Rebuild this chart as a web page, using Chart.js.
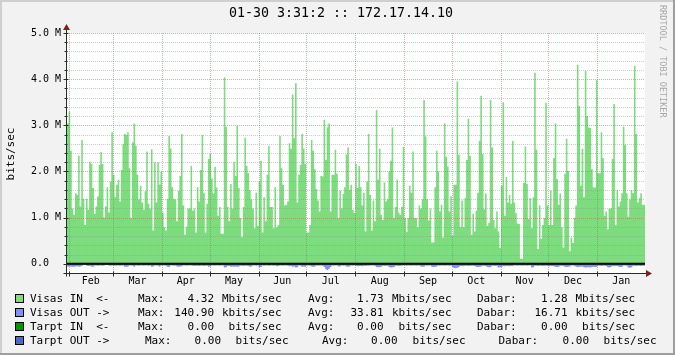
<!DOCTYPE html>
<html><head><meta charset="utf-8">
<script src="https://cdn.jsdelivr.net/npm/chart.js@4/dist/chart.umd.min.js"></script>
<style>html,body{margin:0;padding:0;background:#f2f2f2}#wrap{position:relative;width:675px;height:355px}canvas{display:block}</style>
</head><body><div id="wrap"><canvas id="c" width="675" height="355"></canvas></div>
<script>
// ---------- DATA ----------
const titleText = "01-30 3:31:2 :: 172.17.14.10";
const yAxisTitle = "bits/sec";
const creditText = "RRDTOOL / TOBI OETIKER";
const yTickValues = [0, 1, 2, 3, 4, 5];
const yTickLabels = ["0.0", "1.0 M", "2.0 M", "3.0 M", "4.0 M", "5.0 M"];
const monthLabels = ["Feb","Mar","Apr","May","Jun","Jul","Aug","Sep","Oct","Nov","Dec","Jan"];
const monthStartDays = [1, 29, 60, 90, 121, 151, 182, 213, 243, 274, 304, 335, 365];

// Visas IN, Mbits/sec per day
const visasIn = [
1.47,3.04,3.30,2.45,1.20,1.06,1.53,1.49,2.34,1.24,2.68,1.41,0.84,1.41,1.17,2.21,2.16,1.64,1.08,1.24,
1.46,2.14,2.42,2.16,1.00,1.24,1.66,1.11,1.78,2.85,1.93,1.44,1.71,1.82,1.35,2.03,2.59,2.81,2.79,2.85,
2.07,0.99,2.63,3.04,2.56,1.93,1.39,1.69,1.33,1.17,1.57,2.43,1.30,1.20,2.48,0.72,2.20,1.33,2.20,1.72,
2.00,
1.11,0.79,0.72,1.41,2.77,2.50,1.66,1.41,1.39,0.92,1.58,1.90,2.81,1.26,0.63,0.81,1.20,1.20,2.12,1.15,
1.20,0.68,1.66,1.35,2.03,2.79,1.54,0.68,1.30,2.27,2.38,1.85,1.52,2.10,1.65,1.04,1.23,0.65,0.65,4.04,
2.97,1.23,0.92,1.73,1.20,2.21,1.90,2.99,1.64,0.99,0.58,1.23,2.73,2.12,1.96,1.60,1.39,1.20,0.77,1.54,
0.82,
1.78,2.23,0.68,1.44,0.92,1.93,2.55,1.23,1.23,0.77,1.66,0.79,0.84,2.77,2.07,1.71,1.26,1.28,1.35,2.61,
2.49,3.67,2.72,3.91,1.33,1.93,2.14,2.81,2.50,2.16,0.68,0.68,0.84,2.68,2.45,2.05,1.62,1.37,1.13,1.90,
1.89,3.12,2.25,2.96,3.04,1.13,1.93,1.93,2.47,1.95,0.99,1.59,1.20,1.51,1.66,2.37,2.52,1.60,1.71,1.17,
1.10,
2.16,1.64,2.12,1.66,1.26,1.54,0.70,1.78,2.81,1.49,0.72,1.37,0.92,3.33,1.82,2.49,1.06,0.95,1.76,1.35,
1.40,2.00,2.23,2.95,0.99,1.23,1.82,1.11,1.06,1.23,2.53,0.99,0.69,0.99,1.69,1.54,2.43,0.99,0.99,0.79,
1.26,1.20,1.40,3.55,2.76,1.40,0.94,1.20,0.46,0.46,1.66,2.45,2.00,1.13,1.28,0.57,3.04,2.32,2.11,1.13,
1.46,
0.61,1.71,1.71,3.95,2.36,0.79,1.37,0.79,1.42,2.25,3.14,2.34,0.63,1.08,0.70,1.15,1.54,2.66,3.64,2.38,
1.18,1.52,0.82,0.89,3.55,2.52,0.95,0.77,1.13,0.70,0.34,1.69,3.50,1.04,1.88,1.33,1.49,1.30,2.66,1.33,
1.10,0.87,0.86,0.11,0.11,1.75,2.54,1.73,0.97,1.42,0.77,1.44,4.14,2.47,0.32,1.26,0.54,0.84,0.99,3.49,
1.26,0.84,1.59,0.84,2.29,3.04,1.83,1.28,1.52,0.79,0.35,1.95,2.71,2.01,0.27,0.57,0.45,0.99,1.26,4.31,
3.42,1.69,2.49,1.44,4.18,3.20,2.95,2.94,2.05,1.65,1.65,3.98,1.96,1.96,2.85,2.29,1.04,1.13,0.75,1.20,
1.20,2.27,3.46,0.84,1.60,1.24,1.35,1.53,2.97,2.58,1.53,1.02,1.39,1.60,1.53,4.29,2.81,1.33,1.42,1.53,
1.28
];

// Visas OUT, Mbits/sec per day (drawn below zero)
const visasOut = [
0.065,0.06,0.065,0.06,0.065,0.065,0.06,0.055,0.065,0.06,0.045,0.02,0.02,0.045,0.05,0.045,0.06,
0.065,0.04,0.04,0.045,0.04,0.04,0.045,0.04,0.02,0.02,0.04,0.045,0.04,0.04,0.045,0.04,0.04,0.045,0.04,0.04,
0.065,0.065,0.06,0.04,0.04,0.045,0.065,0.04,0.04,0.045,0.04,0.04,0.045,0.04,0.04,0.045,0.04,
0.065,0.06,0.04,0.04,0.045,0.065,0.04,
0.04,0.04,0.045,0.065,0.07,0.04,0.04,0.045,0.04,0.06,0.065,0.06,0.055,0.04,0.04,0.045,0.04,0.04,0.04,
0.045,0.05,0.045,0.045,0.05,0.045,0.045,0.05,0.045,0.045,0.065,0.06,0.04,0.04,0.045,0.04,0.04,0.045,0.04,0.04,
0.08,0.075,0.05,0.05,0.065,0.06,0.065,0.06,0.065,0.06,0.045,0.045,0.05,0.045,0.045,0.05,0.065,0.06,
0.04,0.04,0.045,0.04,
0.075,0.07,0.04,0.045,0.04,0.04,0.045,0.04,0.04,0.045,0.04,0.055,0.05,0.04,0.04,0.045,0.04,0.04,0.045,
0.055,0.05,0.065,0.06,0.08,0.075,0.04,0.045,0.065,0.06,0.065,0.04,0.04,0.045,0.06,0.065,0.06,
0.04,0.045,0.04,0.04,0.045,0.07,0.12,0.14,0.11,0.07,0.04,0.045,0.04,0.04,0.06,0.055,0.04,0.045,0.04,
0.06,0.065,0.06,0.04,0.045,0.04,
0.05,0.055,0.05,0.05,0.055,0.045,0.05,0.045,0.045,0.04,0.04,0.04,0.045,0.07,0.075,0.07,0.065,
0.045,0.05,0.045,0.045,0.07,0.08,0.075,0.07,0.045,0.045,0.05,0.045,0.045,
0.04,0.04,0.045,0.04,0.04,0.045,0.04,0.04,0.045,0.04,0.04,0.06,0.065,0.06,0.04,0.045,0.04,0.04,
0.065,0.07,0.065,0.06,0.04,0.045,0.04,0.04,0.045,0.04,0.04,0.045,0.04,
0.07,0.09,0.095,0.085,0.07,0.05,0.055,0.05,0.045,0.045,0.05,0.045,0.045,0.045,0.05,
0.065,0.07,0.065,0.06,0.045,0.045,0.05,0.07,0.075,0.07,0.045,0.045,0.05,0.045,0.08,0.075,0.07,
0.05,0.055,0.05,0.05,0.055,0.05,0.05,0.04,0.04,0.045,0.04,0.04,0.045,0.04,0.04,0.045,0.04,0.04,
0.08,0.075,0.045,0.045,0.05,0.045,0.045,0.05,0.045,0.045,
0.05,0.055,0.05,0.05,0.055,0.065,0.07,0.065,0.045,0.045,0.05,0.065,0.07,0.065,0.06,0.04,0.04,0.045,
0.065,0.07,0.065,0.065,0.06,0.075,0.08,0.075,0.075,0.08,0.07,0.065,0.07,0.065,
0.045,0.045,0.05,0.045,0.045,0.05,0.075,0.08,0.07,0.05,0.055,0.05,0.05,0.065,0.07,0.065,
0.04,0.04,0.045,0.08,0.085,0.075,0.045,0.045,0.05,0.045,0.045,0.05,0.045
];

// Tarpt series: constant zero, one sample per month boundary
const tarptIn  = [0,0,0,0,0,0,0,0,0,0,0,0,0];
const tarptOut = [0,0,0,0,0,0,0,0,0,0,0,0,0];

// Legend table
const legendNames = ["Visas IN  <-", "Visas OUT ->", "Tarpt IN  <-", "Tarpt OUT ->"];
const legendMax   = ["4.32", "140.90", "0.00", "0.00"];
const legendAvg   = ["1.73", "33.81", "0.00", "0.00"];
const legendNow   = ["1.28", "16.71", "0.00", "0.00"];
const legendUnits = ["Mbits/sec", "kbits/sec", " bits/sec", " bits/sec"];

// ---------- STYLE ----------
const COL_IN = "#7ddc7d", COL_OUT = "#7f8fff", COL_TIN = "#009a00", COL_TOUT = "#4f68c8";
const legendColors = [COL_IN, COL_OUT, COL_TIN, COL_TOUT];
const MONO = '"DejaVu Sans Mono", "Liberation Mono", monospace';

function stepData(vals, sign) {
  const pts = vals.map((v, i) => ({ x: i, y: sign * v }));
  pts.push({ x: vals.length, y: sign * vals[vals.length - 1] });
  return pts;
}

const rrdPlugin = {
  id: 'rrd',
  beforeDraw(chart) {
    const ctx = chart.ctx, a = chart.chartArea, W = chart.width, H = chart.height;
    ctx.save();
    ctx.fillStyle = '#f2f2f2'; ctx.fillRect(0, 0, W, H);
    // frame shades
    ctx.fillStyle = '#cfcfcf'; ctx.fillRect(0, 0, W, 2); ctx.fillRect(0, 0, 2, H);
    ctx.fillStyle = '#9e9e9e'; ctx.fillRect(0, H - 2, W, 2); ctx.fillRect(W - 2, 0, 2, H);
    ctx.fillStyle = '#ffffff'; ctx.fillRect(a.left, a.top, a.right - a.left, a.bottom - a.top);
    ctx.restore();
  },
  afterDatasetsDraw(chart) {
    const ctx = chart.ctx, a = chart.chartArea, xs = chart.scales.x, ys = chart.scales.y;
    ctx.save();
    ctx.lineWidth = 1;
    // minor horizontal grid
    ctx.setLineDash([1, 1]);
    ctx.strokeStyle = 'rgba(143,143,143,0.45)';
    for (let k = 1; k <= 24; k++) {
      if (k % 5 === 0) continue;
      const y = Math.round(ys.getPixelForValue(k * 0.2)) + 0.5;
      ctx.beginPath(); ctx.moveTo(a.left, y); ctx.lineTo(a.right, y); ctx.stroke();
    }
    // major horizontal grid
    ctx.strokeStyle = 'rgba(222,79,79,0.5)';
    yTickValues.forEach(v => {
      if (v === 0) return;
      const y = Math.round(ys.getPixelForValue(v)) + 0.5;
      ctx.beginPath(); ctx.moveTo(a.left, y); ctx.lineTo(a.right, y); ctx.stroke();
    });
    // month grid
    monthStartDays.slice(0, 12).forEach(d => {
      const x = Math.round(xs.getPixelForValue(d)) + 0.5;
      ctx.beginPath(); ctx.moveTo(x, a.top); ctx.lineTo(x, a.bottom); ctx.stroke();
    });
    ctx.setLineDash([]);
    // zero rule
    const y0 = ys.getPixelForValue(0);
    ctx.strokeStyle = '#000'; ctx.lineWidth = 2;
    ctx.beginPath(); ctx.moveTo(a.left, y0); ctx.lineTo(a.right, y0); ctx.stroke();
    // axes
    ctx.lineWidth = 1; ctx.strokeStyle = '#2a2a2a';
    const ax = Math.round(a.left) - 0.5, ay = Math.round(a.bottom) + 0.5;
    ctx.beginPath(); ctx.moveTo(ax, ay + 3); ctx.lineTo(ax, a.top - 6); ctx.stroke();
    ctx.beginPath(); ctx.moveTo(ax - 3, ay); ctx.lineTo(a.right + 4, ay); ctx.stroke();
    // left ticks
    for (let k = 0; k <= 25; k++) {
      const y = Math.round(ys.getPixelForValue(k * 0.2)) + 0.5;
      const len = (k % 5 === 0) ? 3 : 2;
      ctx.beginPath(); ctx.moveTo(ax - len, y); ctx.lineTo(ax + (k % 5 === 0 ? 2 : 1), y); ctx.stroke();
    }
    // bottom ticks
    monthStartDays.slice(0, 12).forEach(d => {
      const x = Math.round(xs.getPixelForValue(d)) + 0.5;
      ctx.beginPath(); ctx.moveTo(x, ay - 2); ctx.lineTo(x, ay + 3); ctx.stroke();
    });
    // arrows
    ctx.fillStyle = '#801f1f';
    ctx.beginPath(); ctx.moveTo(ax - 3.5, a.top - 3); ctx.lineTo(ax + 3.5, a.top - 3); ctx.lineTo(ax, a.top - 9); ctx.closePath(); ctx.fill();
    ctx.beginPath(); ctx.moveTo(a.right + 1, ay - 3.5); ctx.lineTo(a.right + 1, ay + 3.5); ctx.lineTo(a.right + 7, ay); ctx.closePath(); ctx.fill();

    // y labels
    ctx.fillStyle = '#000';
    ctx.font = '10px ' + MONO; ctx.textBaseline = 'middle'; ctx.textAlign = 'left';
    yTickValues.forEach((v, i) => {
      ctx.fillText(yTickLabels[i], 31, ys.getPixelForValue(v));
    });
    // month labels
    ctx.textAlign = 'center';
    monthLabels.forEach((m, i) => {
      const x = (xs.getPixelForValue(monthStartDays[i]) + xs.getPixelForValue(monthStartDays[i + 1])) / 2;
      ctx.fillText(m, x, 281);
    });
    // y axis title
    ctx.save();
    ctx.font = '11px ' + MONO;
    ctx.translate(11, (a.top + a.bottom) / 2 + 1);
    ctx.rotate(-Math.PI / 2);
    ctx.fillText(yAxisTitle, 0, 0);
    ctx.restore();
    // title
    ctx.font = '13.3px ' + MONO; ctx.textAlign = 'center';
    ctx.fillText(titleText, 341, 14);
    // credit
    ctx.save();
    ctx.fillStyle = '#a8a8a8'; ctx.font = '8.5px ' + MONO; ctx.textAlign = 'left';
    ctx.translate(662, 5); ctx.rotate(Math.PI / 2);
    ctx.fillText(creditText, 0, 0);
    ctx.restore();
    // legend
    ctx.font = '11px ' + MONO;
    legendNames.forEach((name, r) => {
      const y = 299 + 14 * r;
      const s = r === 3 ? [7, 14, 21.5] : [0, 0, 0];
      ctx.fillStyle = legendColors[r];
      ctx.fillRect(16, y - 4, 7, 7);
      ctx.strokeStyle = '#000'; ctx.lineWidth = 1;
      ctx.strokeRect(15.5, y - 4.5, 8, 8);
      ctx.fillStyle = '#000';
      ctx.textAlign = 'left';
      ctx.fillText(name, 30, y);
      ctx.fillText('Max:', 138 + s[0], y);
      ctx.fillText(legendUnits[r], 222 + s[0], y);
      ctx.fillText('Avg:', 308 + s[1], y);
      ctx.fillText(legendUnits[r], 392 + s[1], y);
      ctx.fillText('Dabar:', 477 + s[2], y);
      ctx.fillText(legendUnits[r], 575.5 + s[2], y);
      ctx.textAlign = 'right';
      ctx.fillText(legendMax[r], 214 + s[0], y);
      ctx.fillText(legendAvg[r], 383.5 + s[1], y);
      ctx.fillText(legendNow[r], 567.5 + s[2], y);
    });
    ctx.restore();
  }
};

const monthX = monthStartDays;
new Chart(document.getElementById('c').getContext('2d'), {
  type: 'line',
  data: {
    datasets: [
      { label: 'Tarpt OUT', data: tarptOut.map((v, i) => ({ x: monthX[i], y: -v })), borderColor: COL_TOUT, borderWidth: 1, pointRadius: 0, fill: false, order: 1 },
      { label: 'Tarpt IN', data: tarptIn.map((v, i) => ({ x: monthX[i], y: v })), borderColor: COL_TIN, borderWidth: 1, pointRadius: 0, fill: false, order: 2 },
      { label: 'Visas OUT', data: stepData(visasOut, -1), stepped: 'after', fill: 'origin', backgroundColor: COL_OUT, borderColor: 'rgba(0,0,0,0)', borderWidth: 0, pointRadius: 0, order: 3 },
      { label: 'Visas IN', data: stepData(visasIn, 1), stepped: 'after', fill: 'origin', backgroundColor: COL_IN, borderColor: 'rgba(0,0,0,0)', borderWidth: 0, pointRadius: 0, order: 4 }
    ]
  },
  options: {
    responsive: false, animation: false, devicePixelRatio: 1,
    layout: { padding: { left: 67, top: 33, right: 30, bottom: 82 } },
    plugins: { legend: { display: false }, tooltip: { enabled: false }, title: { display: false } },
    scales: {
      x: { type: 'linear', min: 0, max: 365, display: false },
      y: { type: 'linear', min: -0.2, max: 5, display: false }
    },
    elements: { line: { tension: 0 } }
  },
  plugins: [rrdPlugin]
});
</script>
</body></html>
